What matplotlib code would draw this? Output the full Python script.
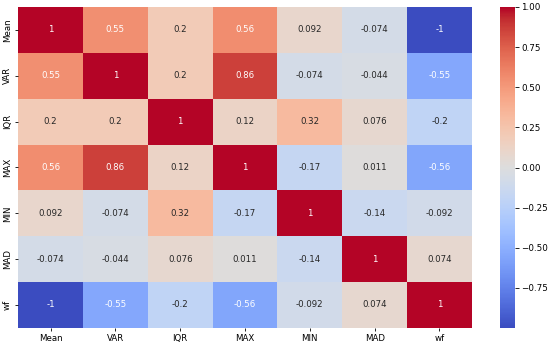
import numpy as np
import matplotlib
matplotlib.use('Agg')
import matplotlib.pyplot as plt
import seaborn as sns

labels = ['Mean', 'VAR', 'IQR', 'MAX', 'MIN', 'MAD', 'wf']
corr = np.array([
    [1, 0.55, 0.2, 0.56, 0.092, -0.074, -1],
    [0.55, 1, 0.2, 0.86, -0.074, -0.044, -0.55],
    [0.2, 0.2, 1, 0.12, 0.32, 0.076, -0.2],
    [0.56, 0.86, 0.12, 1, -0.17, 0.011, -0.56],
    [0.092, -0.074, 0.32, -0.17, 1, -0.14, -0.092],
    [-0.074, -0.044, 0.076, 0.011, -0.14, 1, 0.074],
    [-1, -0.55, -0.2, -0.56, -0.092, 0.074, 1],
])

fig = plt.figure(figsize=(5.5, 3.47), dpi=100)
ax = fig.add_axes([0.033, 0.055, 0.825, 0.925])
cax = fig.add_axes([0.909, 0.055, 0.027, 0.925])

sns.heatmap(corr, annot=True, cmap='coolwarm', vmin=-0.999, vmax=1.0,
            xticklabels=labels, yticklabels=labels, ax=ax, cbar_ax=cax,
            annot_kws={'fontsize': 6.2})
ax.tick_params(labelsize=6.2, length=2.5, width=0.6, pad=2)
cax.tick_params(labelsize=6.3, length=3, width=0.6, pad=1.5)
cax.yaxis.set_ticks([-0.75, -0.5, -0.25, 0, 0.25, 0.5, 0.75, 1.0])

fig.savefig('out.png', dpi=100)
